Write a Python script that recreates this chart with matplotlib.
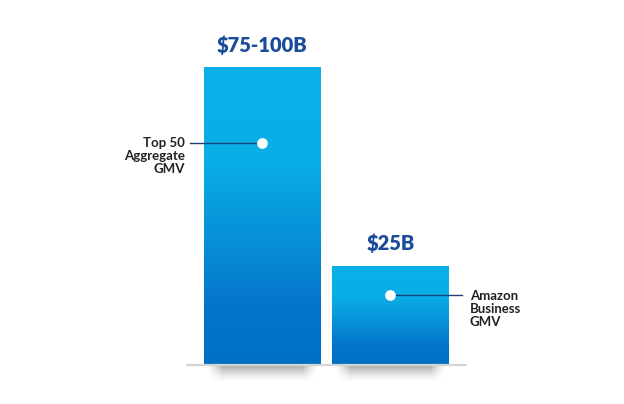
import numpy as np
import matplotlib.pyplot as plt
from matplotlib.colors import LinearSegmentedColormap

# data
labels = ['Top 50\nAggregate\nGMV', 'Amazon\nBusiness\nGMV']
values = [75, 25]
value_text = ['$75-100B', '$25B']
dot_y = [56, 17.7]

plt.rcParams['font.family'] = ['Lato', 'DejaVu Sans']

fig = plt.figure(figsize=(6.24, 4.04), dpi=100)
ax = fig.add_axes([0, 0, 1, 1])
ax.axis('off')

x = np.arange(len(values))
width = 0.914

# gradient: light at top, darker towards the bottom
cmap = LinearSegmentedColormap.from_list(
    'bar', [(0, '#0AB0E8'), (0.32, '#0AAEE7'), (0.8, '#0575CA'), (1, '#0070C4')])
grad = np.linspace(0, 1, 256).reshape(-1, 1)

bars = ax.bar(x, values, width=width, color='none', zorder=2)
for b in bars:
    x0, w, h = b.get_x(), b.get_width(), b.get_height()
    im = ax.imshow(grad, cmap=cmap, aspect='auto', origin='upper',
                   extent=(x0, x0 + w, 0, h), zorder=2)
    im.set_clip_path(b)

    # soft shadow under the bar
    yy = np.linspace(0, 1, 60).reshape(-1, 1)
    xx = np.linspace(-1, 1, 200).reshape(1, -1)
    vert = np.clip(1 - yy, 0, 1) ** 1.6
    horiz = np.clip((1 - np.abs(xx)) * 3.5, 0, 1) ** 1.5
    alpha = vert * horiz * 0.6
    rgba = np.zeros((60, 200, 4))
    rgba[..., :3] = 0.42
    rgba[..., 3] = alpha
    ax.imshow(rgba, aspect='auto', origin='upper',
              extent=(x0 + 0.02 * w, x0 + 0.98 * w, -4.6, -0.2), zorder=1)

ax.set_xlim(-2.05, 2.825)
ax.set_ylim(-9.8, 91.9)

# baseline
ax.plot([-0.6, 1.6], [0, 0], color='#d4d4d4', lw=1.6, zorder=3, solid_capstyle='butt')

# value labels
for xi, v, t in zip(x, values, value_text):
    ax.annotate(t, (xi, v), xytext=(0, 9), textcoords='offset points',
                ha='center', va='bottom', fontsize=14.5, fontweight='heavy',
                color='#1B4C99')

# callouts
ax.plot([-0.565, 0], [dot_y[0], dot_y[0]], color='#1D3F7A', lw=1, zorder=4)
ax.text(-0.605, dot_y[0] + 1.3, labels[0], ha='right', va='top', fontsize=9.5,
        fontweight='bold', color='#222222', linespacing=1.1)
ax.plot([1, 1.56], [dot_y[1], dot_y[1]], color='#1D3F7A', lw=1, zorder=4)
ax.text(1.62, dot_y[1] + 1.3, labels[1], ha='left', va='top', fontsize=9.5,
        fontweight='bold', color='#222222', linespacing=1.1)
ax.scatter(x, dot_y, s=60, color='white', zorder=5, linewidths=0)

fig.savefig('out.png', dpi=100)
